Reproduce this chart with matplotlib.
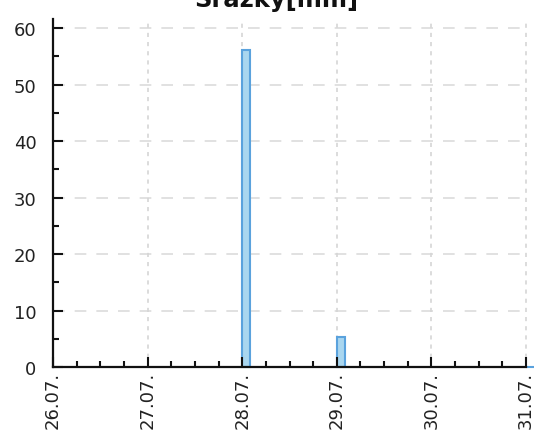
import matplotlib
matplotlib.use("Agg")
import matplotlib.pyplot as plt
import matplotlib.dates as mdates
import numpy as np
import pandas as pd
from matplotlib.ticker import MultipleLocator

title = "Srážky[mm]"
bar_times = ["2023-07-28 00:00", "2023-07-29 00:00", "2023-07-31 00:00"]
bar_values = [56.2, 5.3, 0.0]
x_start = "2023-07-26"
x_end = "2023-07-31"
y_max = 61.6

W, H = 535, 435
fig = plt.figure(figsize=(W / 100, H / 100), dpi=100)
ax = fig.add_axes([53 / W, 1 - 368 / H, (526 - 53) / W, (368 - 20) / H])

times = mdates.date2num(pd.to_datetime(bar_times).to_pydatetime())
bars = ax.bar(times, bar_values, width=2 / 24, align="edge",
              facecolor="#a9d6ef", edgecolor="#5aa2dd", linewidth=1.5,
              zorder=2, clip_on=False)

x0 = mdates.date2num(pd.Timestamp(x_start).to_pydatetime())
x1 = mdates.date2num(pd.Timestamp(x_end).to_pydatetime())
ax.set_xlim(x0, x1)
ax.set_ylim(0, y_max)

ax.xaxis.set_major_locator(mdates.DayLocator())
ax.xaxis.set_minor_locator(mdates.HourLocator(byhour=[6, 12, 18]))
ax.xaxis.set_major_formatter(mdates.DateFormatter("%d.%m."))
ax.yaxis.set_major_locator(MultipleLocator(10))
ax.yaxis.set_minor_locator(MultipleLocator(5))

for s in ["top", "right"]:
    ax.spines[s].set_visible(False)
for s in ["left", "bottom"]:
    ax.spines[s].set_linewidth(1.6)
    ax.spines[s].set_color("#111111")
    ax.spines[s].set_zorder(3)

ax.tick_params(axis="both", which="major", direction="in", length=7.5,
               width=1.5, color="#111111", labelsize=13, labelcolor="#222222")
ax.tick_params(axis="both", which="minor", direction="in", length=4.5,
               width=1.5, color="#111111")
ax.tick_params(axis="x", which="major", pad=3)
ax.tick_params(axis="y", which="major", pad=12)
plt.setp(ax.get_xticklabels(), rotation=90, ha="center", va="top")

# grid drawn beneath bars
for yv in ax.get_yticks():
    if 0 < yv <= y_max:
        ax.axhline(yv, color="#dcdcdc", linewidth=1.2, linestyle=(0, (7, 6)), zorder=0)
for xv in ax.get_xticks():
    if x0 < xv <= x1:
        ax.axvline(xv, color="#d6d6d6", linewidth=1.2, linestyle=(0, (2.5, 3)), zorder=0,
                   clip_on=False)

ax.set_axisbelow(False)

fig.text(276 / W, 1 - 7.5 / H, title, ha="center", va="baseline",
         fontsize=17.5, fontweight="bold", color="#111111")

fig.savefig("out.png", dpi=100)
